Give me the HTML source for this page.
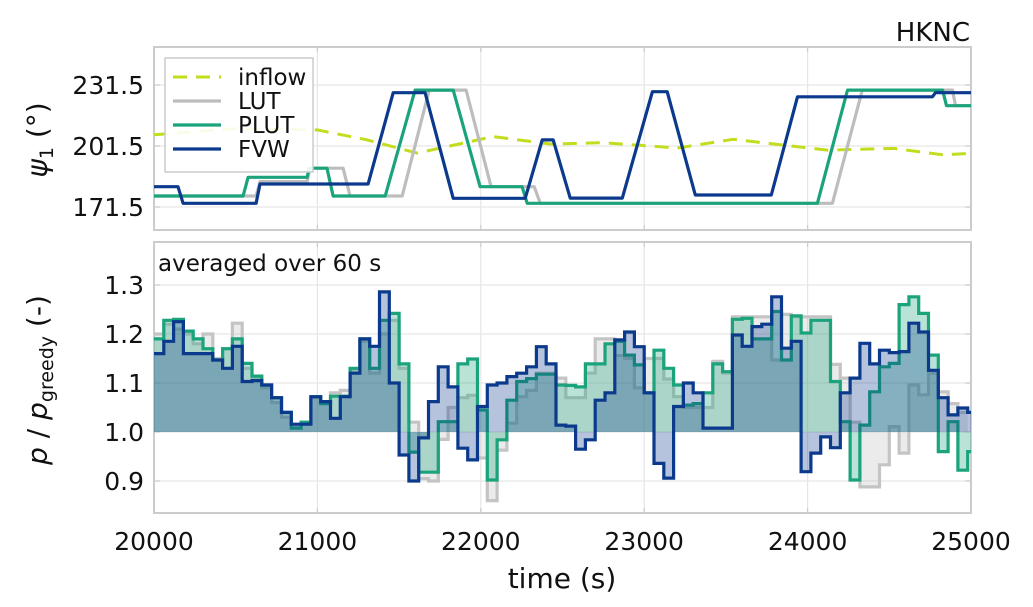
<!DOCTYPE html>
<html><head><meta charset="utf-8"><style>
body{margin:0;background:#fff;}
svg{display:block;font-family:"DejaVu Sans","Liberation Sans",sans-serif;}
</style></head><body>
<svg id="chart" width="1033" height="607" viewBox="0 0 1033 607" xmlns="http://www.w3.org/2000/svg">
<g id="gTop"></g>
<g id="gBot"></g>
</svg>
<svg style="position:absolute;left:0;top:0" width="1033" height="607" xmlns="http://www.w3.org/2000/svg">
<text x="562" y="588" text-anchor="middle" font-size="28" fill="#111" font-family="DejaVu Sans, Liberation Sans, sans-serif">time (s)</text>
<text x="970" y="41" text-anchor="end" font-size="26" fill="#111" font-family="DejaVu Sans, Liberation Sans, sans-serif">HKNC</text>
<text x="158" y="271" font-size="23" fill="#111" font-family="DejaVu Sans, Liberation Sans, sans-serif">averaged over 60 s</text>
<text transform="translate(47,140) rotate(-90)" text-anchor="middle" font-size="28" fill="#111" font-family="DejaVu Sans, Liberation Sans, sans-serif"><tspan font-style="italic">ψ</tspan><tspan font-size="19" dy="6">1</tspan><tspan dy="-6"> (°)</tspan></text>
<text transform="translate(47,380) rotate(-90)" text-anchor="middle" font-size="28" fill="#111" font-family="DejaVu Sans, Liberation Sans, sans-serif"><tspan font-style="italic">p</tspan> / <tspan font-style="italic">p</tspan><tspan font-size="19" dy="6">greedy</tspan><tspan dy="-6"> (-)</tspan></text>
<g>
<rect x="165" y="58" width="148" height="114" fill="rgba(255,255,255,0.9)" stroke="#cccccc" stroke-width="1.5"/>
<g><line x1="173" y1="77" x2="221" y2="77" stroke="#c3dd1e" stroke-width="3" stroke-dasharray="14,9"/><text x="238" y="85" font-size="23" fill="#111" font-family="DejaVu Sans, Liberation Sans, sans-serif">inflow</text></g>
<g><line x1="173" y1="101" x2="221" y2="101" stroke="#bdbdbd" stroke-width="3.2"/><text x="238" y="109" font-size="23" fill="#111" font-family="DejaVu Sans, Liberation Sans, sans-serif">LUT</text></g>
<g><line x1="173" y1="125" x2="221" y2="125" stroke="#1ba37c" stroke-width="3.2"/><text x="238" y="133" font-size="23" fill="#111" font-family="DejaVu Sans, Liberation Sans, sans-serif">PLUT</text></g>
<g><line x1="173" y1="149" x2="221" y2="149" stroke="#0b3a8c" stroke-width="3.2"/><text x="238" y="157" font-size="23" fill="#111" font-family="DejaVu Sans, Liberation Sans, sans-serif">FVW</text></g>
</g>
</svg>
<script>
// ----- data -----
const xTicks = [20000, 21000, 22000, 23000, 24000, 25000];
const yawTicks = [171.5, 201.5, 231.5];
const powTicks = [0.9, 1.0, 1.1, 1.2, 1.3];
const stepStart = 20000;
const stepLen = 60;
const inflowT = [20000,20484,20998,21304,21610,22076,22425,22750,23203,23546,24121,24525,24832,25000];
const inflowV = [207,210,209.4,204.5,198,206.1,202.5,203.1,200.5,204.8,199.5,200.3,197.1,197.9];
const lutYawT = [20000,20625,20649,20937,20955,21157,21200,21519,21684,21910,22063,22327,22364,24152,24335,24887,24905,25000];
const lutYawV = [176.9,176.9,184,184,190.6,190.6,176.9,176.9,229,229,181.5,181.5,173.3,173.3,229,229,221.3,221.3];
const plutYawT = [20000,20545,20576,20937,20949,21059,21096,21415,21598,21831,21996,22253,22284,24060,24244,24826,24850,25000];
const plutYawV = [176.9,176.9,186.1,186.1,190.6,190.6,176.9,176.9,229,229,181.5,181.5,173.3,173.3,229,229,221.3,221.3];
const fvwYawT = [20000,20147,20178,20625,20649,21310,21464,21659,21831,22272,22376,22443,22547,22866,23050,23141,23313,23778,23938,24764,24783,25000];
const fvwYawV = [181.5,181.5,173.3,173.3,182.8,182.8,227.7,227.7,175.8,175.8,204.5,204.5,175.9,175.9,228.2,228.2,177.4,177.4,225.7,225.7,227.7,227.7];
const lutPow = [1.2,1.22,1.21,1.2,1.18,1.2,1.15,1.17,1.222,1.13,1.11,1.09,1.06,1.03,1.01,1.02,1.07,1.06,1.08,1.085,1.125,1.185,1.12,1.2,1.228,1.13,1.02,0.905,0.9,0.985,1.05,1.07,1.075,0.947,0.86,0.963,1.018,1.072,1.085,1.12,1.12,1.11,1.07,1.07,1.12,1.19,1.19,1.156,1.15,1.09,1.15,1.15,1.108,1.072,1.05,1.05,1.05,1.144,1.12,1.235,1.235,1.235,1.235,1.147,1.24,1.235,1.235,1.235,1.235,1.138,1.11,1.02,0.888,0.888,0.933,1.011,0.957,1.096,1.076,1.12,1.082,1.058,1.04];
const plutPow = [1.19,1.228,1.23,1.206,1.19,1.17,1.147,1.17,1.19,1.14,1.114,1.096,1.07,1.04,1.008,1.02,1.072,1.058,1.073,1.073,1.13,1.19,1.13,1.228,1.242,1.139,0.959,0.918,0.918,1.021,1.021,1.139,1.149,1.045,0.902,0.984,1.065,1.103,1.109,1.118,1.118,1.096,1.095,1.092,1.139,1.139,1.18,1.185,1.157,1.137,1.08,1.167,1.13,1.096,1.055,1.058,1.08,1.139,1.123,1.23,1.232,1.19,1.19,1.246,1.147,1.237,1.202,1.228,1.228,1.103,1.021,0.902,1.014,1.082,1.133,1.14,1.26,1.276,1.242,1.157,0.96,1.021,0.922,0.96];
const fvwPow = [1.16,1.185,1.225,1.16,1.16,1.16,1.147,1.13,1.175,1.103,1.105,1.096,1.07,1.04,1.016,1.016,1.072,1.062,1.028,1.072,1.12,1.19,1.175,1.286,1.1,0.953,0.9,0.988,1.062,1.133,1.092,0.967,0.943,1.052,1.096,1.1,1.113,1.12,1.133,1.174,1.139,1.014,1.012,0.965,0.984,1.065,1.08,1.188,1.204,1.174,1.08,0.936,0.906,1.052,1.1,1.08,1.008,1.008,1.008,1.198,1.175,1.215,1.22,1.276,1.171,1.185,0.919,0.957,0.99,0.968,1.08,1.11,1.181,1.139,1.167,1.162,1.164,1.222,1.204,1.126,1.07,1.035,1.049,1.04];

(function(){
const L=154, R=971, T1=47, B1=230, T2=242, B2=513;
const NS="http://www.w3.org/2000/svg";
const xS = t => L + (t-20000)/5000*(R-L);
const yA = v => 146 - (v-201.5)/30*61;
const yP = v => 432 - (v-1)*490;
function mk(par, tag, attrs){const e=document.createElementNS(NS,tag);for(const k in attrs)e.setAttribute(k,attrs[k]);par.appendChild(e);return e;}
const svg=document.getElementById('chart');
const gTop=document.getElementById('gTop'), gBot=document.getElementById('gBot');
const defs=mk(svg,'defs',{});
const c1=mk(defs,'clipPath',{id:'c1'});mk(c1,'rect',{x:L,y:T1,width:R-L,height:B1-T1});
const c2=mk(defs,'clipPath',{id:'c2'});mk(c2,'rect',{x:L,y:T2,width:R-L,height:B2-T2});

function panel(g,T,B,yticks,yf,fmt,name){
  xTicks.forEach(t=>{const l=mk(g,'line',{x1:xS(t),x2:xS(t),y1:T,y2:B,stroke:'#e6e6e6','stroke-width':1.2});
    
    
    mk(g,'line',{x1:xS(t),x2:xS(t),y1:B,y2:B-5,stroke:'#cccccc','stroke-width':1.2});
    mk(g,'line',{x1:xS(t),x2:xS(t),y1:T,y2:T+5,stroke:'#cccccc','stroke-width':1.2});});
  yticks.forEach(v=>{const y=yf(v);
    const l=mk(g,'line',{x1:L,x2:R,y1:y,y2:y,stroke:'#e6e6e6','stroke-width':1.2});
    
    
    mk(g,'line',{x1:L,x2:L+6,y1:y,y2:y,stroke:'#cccccc','stroke-width':1.2});
    mk(g,'line',{x1:R-6,x2:R,y1:y,y2:y,stroke:'#cccccc','stroke-width':1.2});
    const tx=mk(g,'text',{x:L-10,y:y+9,'text-anchor':'end','font-size':25,fill:'#111'});
    tx.textContent=fmt(v);
    
    });
  const f=mk(g,'rect',{x:L,y:T,width:R-L,height:B-T,fill:'none',stroke:'#cccccc','stroke-width':2});
  
  
}
panel(gTop,T1,B1,yawTicks,yA,v=>v.toFixed(1),'yaw');
panel(gBot,T2,B2,powTicks,yP,v=>v.toFixed(1),'power');

function poly(g,T,V,color,w,dash,name){
  const d=T.map((t,i)=>(i?'L':'M')+xS(t).toFixed(1)+','+yA(V[i]).toFixed(1)).join('');
  const p=mk(g,'path',{d:d,fill:'none',stroke:color,'stroke-width':w,'stroke-linejoin':'round','clip-path':'url(#c1)'});
  if(dash)p.setAttribute('stroke-dasharray',dash);
  
  
}
poly(gTop,inflowT,inflowV,'#c3dd1e',3,'14,9','inflow-line');
poly(gTop,lutYawT,lutYawV,'#bdbdbd',3.2,null,'lut-yaw-line');
poly(gTop,plutYawT,plutYawV,'#1ba37c',3.2,null,'plut-yaw-line');
poly(gTop,fvwYawT,fvwYawV,'#0b3a8c',3.2,null,'fvw-yaw-line');

function steps(g,vals,color,fill,name){
  let d='';const base=yP(1);
  const n=Math.min(vals.length,Math.ceil(5000/stepLen));
  for(let i=0;i<n;i++){const v=vals[i];
    const x0=xS(stepStart+i*stepLen),x1=xS(Math.min(25000,stepStart+(i+1)*stepLen));
    d+=(i?'L':'M')+x0.toFixed(1)+','+yP(v).toFixed(1)+'L'+x1.toFixed(1)+','+yP(v).toFixed(1);}
  const xe=xS(Math.min(25000,stepStart+n*stepLen));
  const a=mk(g,'path',{d:d+'L'+xe.toFixed(1)+','+base+'L'+L+','+base+'Z',fill:fill,stroke:'none','clip-path':'url(#c2)'});
  
  
  const l=mk(g,'path',{d:d,fill:'none',stroke:color,'stroke-width':3.2,'stroke-linejoin':'miter','clip-path':'url(#c2)'});
  
  
}
steps(gBot,lutPow,'#c4c4c4','rgba(190,190,190,0.3)','lut-power');
steps(gBot,plutPow,'#1ba37c','rgba(27,163,124,0.3)','plut-power');
steps(gBot,fvwPow,'#0b3a8c','rgba(11,58,140,0.3)','fvw-power');

xTicks.forEach(t=>{const tx=mk(svg,'text',{x:xS(t),y:550,'text-anchor':'middle','font-size':25,fill:'#111'});
  tx.textContent=t;
  
  });
})();
</script>
</body></html>
